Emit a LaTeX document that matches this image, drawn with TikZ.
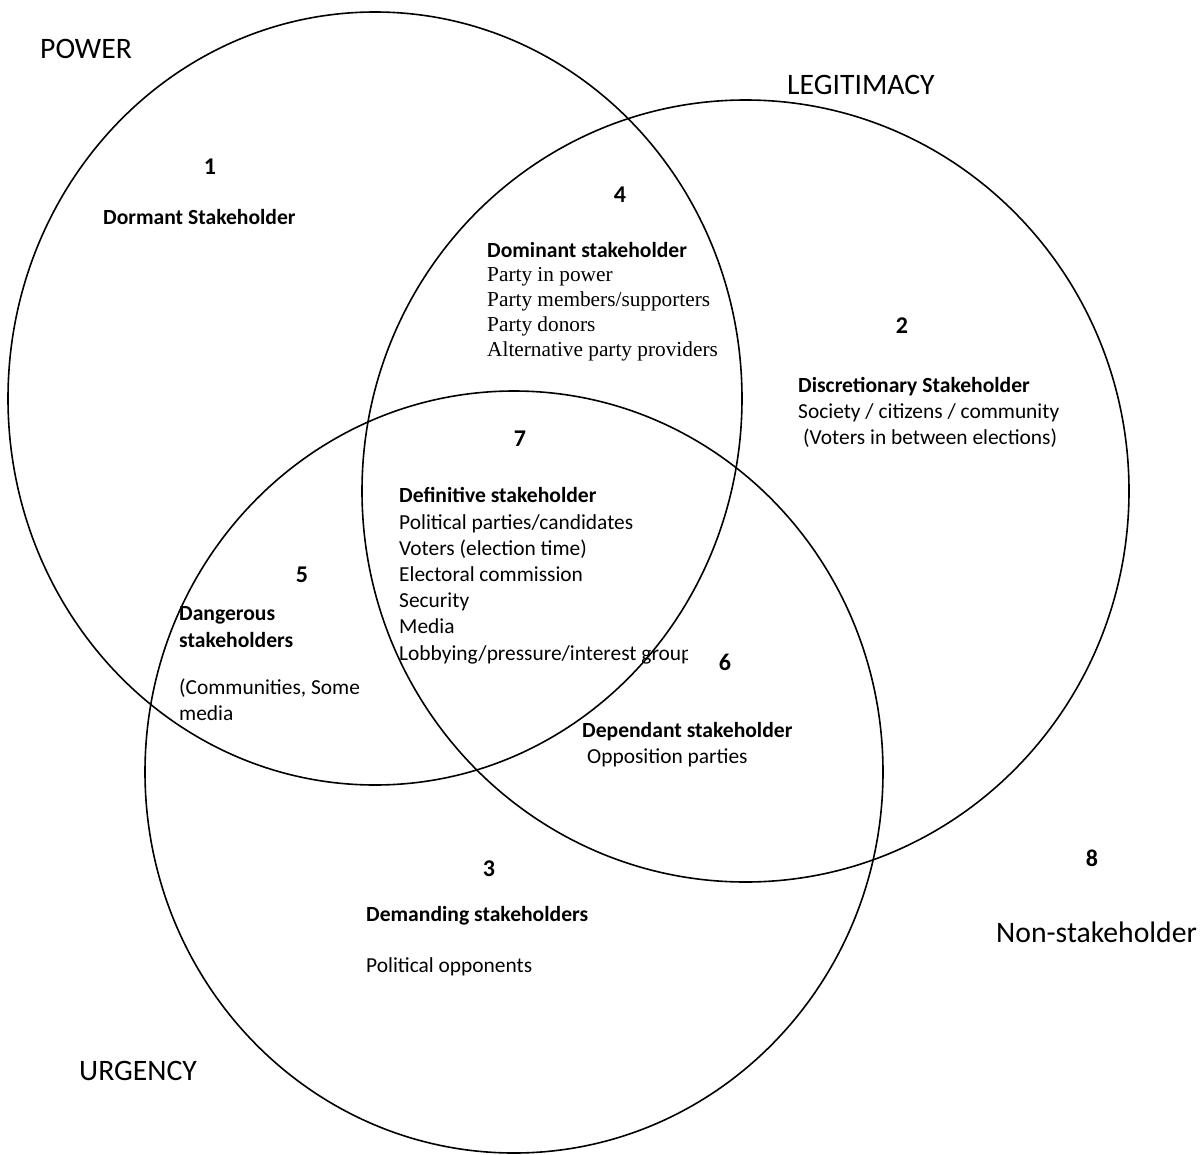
\documentclass[tikz,border=0pt]{standalone}
\usepackage{fontspec}
\setmainfont{Carlito}
\newfontfamily\timesfont{Liberation Serif}
\usepackage{tikz}
\tikzset{
	every node/.style = {font=\fontsize{21.4}{26}\selectfont, inner sep=0pt, anchor=base west},
	num/.style = {font=\fontsize{24}{28}\selectfont\bfseries, anchor=base},
	head/.style = {font=\fontsize{21.6}{26}\selectfont\bfseries},
	big/.style = {font=\fontsize{29.7}{35}\selectfont},
	serif/.style = {font=\fontsize{21.3}{25}\selectfont\timesfont},
	ring/.style = {line width=1.6pt, black}
}
\begin{document}
\begin{tikzpicture}[x=1pt, y=-1pt]
		\useasboundingbox (0,0) rectangle (1202,1154);
		% the three sets
		\draw[ring] (375,398.5) ellipse [x radius=367, y radius=386.5];
		\draw[ring] (745.5,491) ellipse [x radius=383.5, y radius=391];
		\draw[ring] (514,772) ellipse [x radius=369, y radius=381];
		% set names
		\node[big] (power) at (40,58) {POWER};
		\node[big] (legit) at (787,94) {LEGITIMACY};
		\node[big] (urgency) at (79,1080) {URGENCY};
		% region 1
		\node[num] (n1) at (210,174) {1};
		\node[head] (dormant) at (103,224) {Dormant Stakeholder};
		% region 4
		\node[num] (n4) at (620,202) {4};
		\node[head] (dominant) at (487,257) {Dominant stakeholder};
		\node[serif] (dom1) at (487,281) {Party in power};
		\node[serif] (dom2) at (487,306.5) {Party members/supporters};
		\node[serif] (dom3) at (487,331.5) {Party donors};
		\node[serif] (dom4) at (487,356) {Alternative party providers};
		% region 2
		\node[num] (n2) at (902,333) {2};
		\node[head] (discr) at (798,392) {Discretionary Stakeholder};
		\node (discr1) at (798,418) {Society / citizens / community};
		\node (discr2) at (803,444) {(Voters in between elections)};
		% region 7
		\node[num] (n7) at (520,446) {7};
		\node[head] (defin) at (399,502.5) {Definitive stakeholder};
		\node (def1) at (399,529) {Political parties/candidates};
		\node (def2) at (399,555.5) {Voters (election time)};
		\node (def3) at (399,581.5) {Electoral commission};
		\node (def4) at (399,607) {Security};
		\node (def5) at (399,633.5) {Media};
		\begin{scope}
			\clip (390,630) rectangle (687,680);
			\node (def6) at (399,660) {Lobbying/pressure/interest group};
		\end{scope}
		% region 5
		\node[num] (n5) at (302,582) {5};
		\node[head] (danger1) at (179,620) {Dangerous};
		\node[head] (danger2) at (179,647) {stakeholders};
		\node (danger3) at (179,694) {(Communities, Some};
		\node (danger4) at (179,720) {media};
		% region 6
		\node[num] (n6) at (725,670) {6};
		\node[head] (depend) at (582,737) {Dependant stakeholder};
		\node (depend1) at (587,763) {Opposition parties};
		% region 3
		\node[num] (n3) at (489,876) {3};
		\node[head] (demand) at (366,921) {Demanding stakeholders};
		\node (demand1) at (366,972) {Political opponents};
		% outside
		\node[num] (n8) at (1092,866) {8};
		\node[big] (nonst) at (996,942) {Non-stakeholder};
\end{tikzpicture}
\end{document}
